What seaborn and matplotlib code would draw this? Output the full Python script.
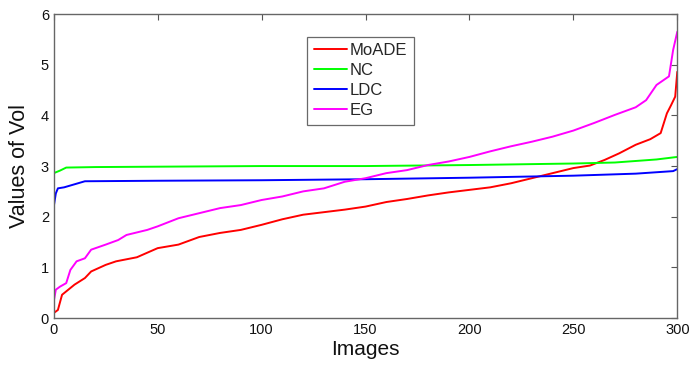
import matplotlib
matplotlib.use('Agg')
from matplotlib import pyplot as plt
import pandas as pd
import seaborn as sns

sns.set_style('white')
plt.rcParams['font.family'] = ['Liberation Sans', 'DejaVu Sans']

# values (sorted per-image scores)
moade_x = [0, 2, 4, 7, 10, 15, 18, 25, 30, 40, 50, 60, 70, 80, 90, 100, 110, 120, 130, 140,
           150, 160, 170, 180, 190, 200, 210, 220, 230, 240, 250, 258, 265, 272, 280, 287,
           292, 295, 297, 299, 300]
moade_y = [0.10, 0.16, 0.46, 0.56, 0.66, 0.79, 0.92, 1.05, 1.12, 1.20, 1.38, 1.45, 1.60, 1.68,
           1.74, 1.84, 1.95, 2.04, 2.09, 2.14, 2.20, 2.29, 2.35, 2.42, 2.48, 2.53, 2.58, 2.66,
           2.76, 2.86, 2.96, 3.01, 3.12, 3.25, 3.42, 3.53, 3.65, 4.04, 4.20, 4.37, 4.86]

nc_x = [0, 3, 6, 20, 100, 150, 200, 250, 270, 290, 300]
nc_y = [2.86, 2.91, 2.97, 2.98, 3.00, 3.00, 3.02, 3.05, 3.07, 3.13, 3.18]

ldc_x = [0, 1, 2, 5, 10, 15, 50, 100, 150, 200, 250, 280, 298, 300]
ldc_y = [2.20, 2.46, 2.56, 2.58, 2.64, 2.70, 2.71, 2.72, 2.74, 2.77, 2.81, 2.85, 2.90, 2.94]

eg_x = [0, 1, 3, 6, 8, 11, 15, 18, 25, 31, 35, 45, 50, 60, 70, 80, 90, 100, 110, 120, 130,
        140, 150, 160, 170, 180, 190, 200, 210, 220, 230, 240, 250, 260, 270, 280, 285, 290,
        296, 298, 300]
eg_y = [0.33, 0.56, 0.62, 0.69, 0.95, 1.12, 1.18, 1.35, 1.45, 1.54, 1.64, 1.74, 1.81, 1.97,
        2.07, 2.17, 2.23, 2.33, 2.40, 2.50, 2.56, 2.69, 2.76, 2.86, 2.92, 3.02, 3.09, 3.18,
        3.29, 3.39, 3.48, 3.58, 3.70, 3.85, 4.01, 4.16, 4.30, 4.60, 4.77, 5.29, 5.65]

methods = ['MoADE', 'NC', 'LDC', 'EG']
colors = {'MoADE': '#ff0000', 'NC': '#00ff00', 'LDC': '#0000ff', 'EG': '#ff00ff'}

df = pd.concat([
    pd.DataFrame({'Images': moade_x, 'Vol': moade_y, 'method': 'MoADE'}),
    pd.DataFrame({'Images': nc_x, 'Vol': nc_y, 'method': 'NC'}),
    pd.DataFrame({'Images': ldc_x, 'Vol': ldc_y, 'method': 'LDC'}),
    pd.DataFrame({'Images': eg_x, 'Vol': eg_y, 'method': 'EG'}),
])

fig, ax = plt.subplots(figsize=(6.89, 3.69), dpi=100)
fig.subplots_adjust(left=0.078, right=0.983, top=0.962, bottom=0.138)

sns.lineplot(data=df, x='Images', y='Vol', hue='method', hue_order=methods,
             palette=colors, linewidth=1.4, estimator=None, sort=False, ax=ax)

ax.set_xlim(0, 300)
ax.set_ylim(0, 6)
ax.set_xticks([0, 50, 100, 150, 200, 250, 300])
ax.set_yticks([0, 1, 2, 3, 4, 5, 6])
ax.tick_params(direction='in', length=4, top=True, right=True, labelsize=10.5,
               color='#555555', width=0.8, labelcolor='#111111')
for s in ax.spines.values():
    s.set_color('#666666')
    s.set_linewidth(1.0)
ax.set_xlabel('Images', fontsize=15, labelpad=2, color='#111111')
ax.set_ylabel('Values of Vol', fontsize=15.5, labelpad=8, color='#111111')

leg = ax.legend(loc='upper left', bbox_to_anchor=(0.406, 0.926), fontsize=12,
                frameon=True, fancybox=False, handlelength=2.0, handletextpad=0.15,
                labelspacing=0.3, borderpad=0.4, borderaxespad=0)
leg.get_frame().set_edgecolor('#444444')
leg.get_frame().set_linewidth(0.9)
leg.set_title(None)

plt.savefig('out.png', dpi=100)
